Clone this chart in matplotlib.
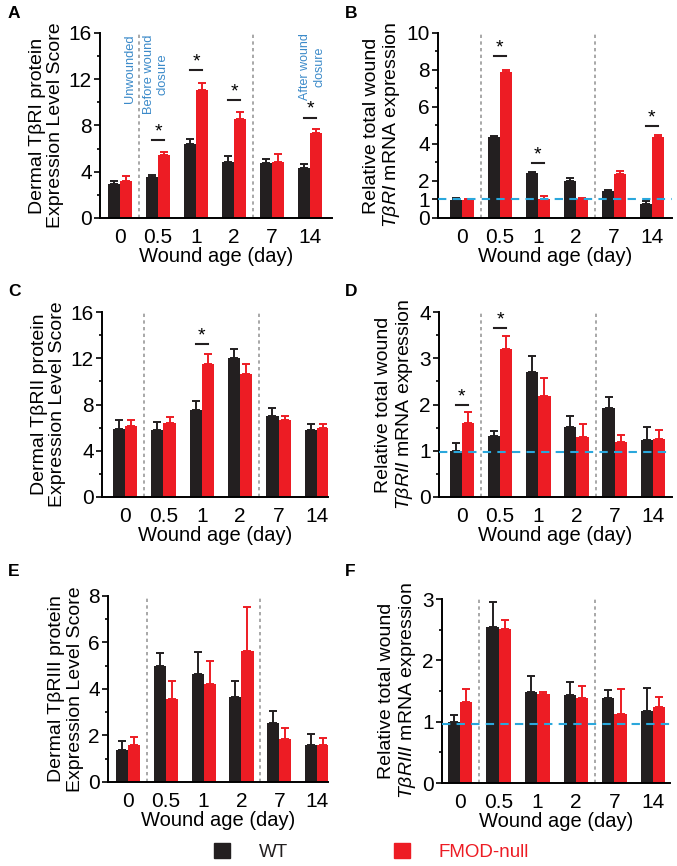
import numpy as np
import matplotlib
matplotlib.use('Agg')
import matplotlib.pyplot as plt
from matplotlib.patches import Patch

plt.rcParams['font.family'] = ['Liberation Sans', 'DejaVu Sans']
plt.rcParams['mathtext.fontset'] = 'custom'
plt.rcParams['mathtext.it'] = 'Liberation Sans:italic'
plt.rcParams['mathtext.rm'] = 'Liberation Sans'

# данные
days = ['0', '0.5', '1', '2', '7', '14']

A_wt = [2.94, 3.54, 6.43, 4.87, 4.76, 4.32]
A_wt_err = [0.23, 0.21, 0.40, 0.46, 0.34, 0.32]
A_ko = [3.23, 5.45, 11.1, 8.59, 4.87, 7.32]
A_ko_err = [0.37, 0.25, 0.57, 0.60, 0.63, 0.40]
A_sig = [(1, 6.71), (2, 12.8), (3, 10.2), (5, 8.65)]

B_wt = [0.97, 4.36, 2.43, 1.98, 1.44, 0.77]
B_wt_err = [0.13, 0.05, 0.07, 0.18, 0.06, 0.17]
B_ko = [0.99, 7.91, 1.0, 1.05, 2.38, 4.36]
B_ko_err = [0.02, 0.07, 0.17, 0.02, 0.14, 0.11]
B_sig = [(1, 8.74), (2, 2.97), (5, 4.95)]

C_wt = [5.85, 5.82, 7.52, 12.02, 6.97, 5.76]
C_wt_err = [0.78, 0.66, 0.75, 0.80, 0.72, 0.52]
C_ko = [6.14, 6.4, 11.53, 10.66, 6.69, 5.97]
C_ko_err = [0.55, 0.52, 0.80, 0.81, 0.28, 0.31]
C_sig = [(2, 13.2)]

D_wt = [1.005, 1.32, 2.7, 1.52, 1.92, 1.24]
D_wt_err = [0.165, 0.10, 0.35, 0.24, 0.25, 0.27]
D_ko = [1.59, 3.2, 2.19, 1.29, 1.19, 1.26]
D_ko_err = [0.25, 0.29, 0.39, 0.28, 0.15, 0.19]
D_sig = [(0, 1.99), (1, 3.65)]

E_wt = [1.36, 5.0, 4.64, 3.66, 2.54, 1.61]
E_wt_err = [0.41, 0.56, 0.96, 0.69, 0.52, 0.47]
E_ko = [1.61, 3.55, 4.21, 5.63, 1.84, 1.61]
E_ko_err = [0.33, 0.80, 0.99, 1.88, 0.50, 0.30]

F_wt = [0.99, 2.55, 1.48, 1.43, 1.39, 1.17]
F_wt_err = [0.12, 0.40, 0.26, 0.21, 0.13, 0.38]
F_ko = [1.32, 2.51, 1.45, 1.39, 1.125, 1.24]
F_ko_err = [0.22, 0.14, 0.03, 0.19, 0.415, 0.17]

BLACK = '#231f20'
RED = '#ed1c24'
BLUE_TXT = '#3b8ac9'
BLUE_LINE = '#2aa7dc'
GREY = '#9a9a9a'

fig = plt.figure(figsize=(6.77, 8.66), dpi=100)

panels = [
    # буква, позиция буквы, позиция осей, данные, ylim, yticks, xlim, ylabel, базовая линия
    ('A', (8, 14), [0.1477, 0.7483, 0.3427, 0.2136], (A_wt, A_wt_err, A_ko, A_ko_err), A_sig,
     16, [0, 4, 8, 12, 16], [2, 6, 10, 14], (-0.53, 5.58),
     'Dermal T\u03b2RI protein\nExpression Level Score', None),
    ('B', (345, 14), [0.6470, 0.7483, 0.3456, 0.2136], (B_wt, B_wt_err, B_ko, B_ko_err), B_sig,
     10, [0, 1, 2, 4, 6, 8, 10], [3, 5, 7, 9], (-0.63, 5.53),
     'Relative total wound\n$\\mathit{T\u03b2RI}$ mRNA expression', 1.0),
    ('C', (8, 291), [0.1507, 0.4261, 0.3338, 0.2136], (C_wt, C_wt_err, C_ko, C_ko_err), C_sig,
     16, [0, 4, 8, 12, 16], [2, 6, 10, 14], (-0.60, 5.29),
     'Dermal T\u03b2RII protein\nExpression Level Score', None),
    ('D', (345, 291), [0.6484, 0.4261, 0.3442, 0.2136], (D_wt, D_wt_err, D_ko, D_ko_err), D_sig,
     4, [0, 1, 2, 3, 4], [0.5, 1.5, 2.5, 3.5], (-0.60, 5.50),
     'Relative total wound\n$\\mathit{T\u03b2RII}$ mRNA expression', 0.97),
    ('E', (8, 572), [0.1595, 0.0970, 0.3250, 0.2148], (E_wt, E_wt_err, E_ko, E_ko_err), [],
     8, [0, 2, 4, 6, 8], [1, 3, 5, 7], (-0.53, 5.29),
     'Dermal T\u03b2RIII protein\nExpression Level Score', None),
    ('F', (345, 572), [0.6529, 0.0958, 0.3368, 0.2125], (F_wt, F_wt_err, F_ko, F_ko_err), [],
     3, [0, 1, 2, 3], [0.5, 1.5, 2.5], (-0.47, 5.44),
     'Relative total wound\n$\\mathit{T\u03b2RIII}$ mRNA expression', 0.97),
]

x = np.arange(len(days))
w = 0.32

for letter, lpos, pos, (wt, wt_e, ko, ko_e), sig, ymax, yt, ymin_t, xl, ylab, base in panels:
    ax = fig.add_axes(pos)
    zeros = [0] * len(days)
    ax.bar(x - w / 2, wt, w, color=BLACK, yerr=[zeros, wt_e],
           error_kw=dict(ecolor=BLACK, capsize=3, elinewidth=1.4, capthick=1.4))
    ax.bar(x + w / 2, ko, w, color=RED, yerr=[zeros, ko_e],
           error_kw=dict(ecolor=RED, capsize=3, elinewidth=1.4, capthick=1.4))

    for xs in (0.5, 3.5):
        ax.axvline(xs, color=GREY, lw=1.2, ls=(0, (2, 2)), zorder=0)
    if base is not None:
        ax.axhline(base, color=BLUE_LINE, lw=1.5, ls=(0, (4, 3)), zorder=5)

    for i, h in sig:
        ax.plot([i - w / 2, i + w / 2], [h, h], color=BLACK, lw=1.5)
        ax.text(i, h, '*', ha='center', va='bottom', fontsize=14)

    ax.set_ylim(0, ymax)
    ax.set_xlim(*xl)
    ax.set_yticks(yt)
    ax.set_yticks(ymin_t, minor=True)
    ax.set_xticks(x)
    ax.set_xticklabels(days)
    ax.tick_params(axis='x', length=0, labelsize=15, pad=7)
    ax.tick_params(axis='y', which='major', length=4, width=1.2, labelsize=15, pad=2)
    ax.tick_params(axis='y', which='minor', length=2.5, width=1.2)
    for s in ('top', 'right'):
        ax.spines[s].set_visible(False)
    for s in ('left', 'bottom'):
        ax.spines[s].set_linewidth(1.4)
    ax.set_xlabel('Wound age (day)', fontsize=14.5, labelpad=0)
    ax.set_ylabel(ylab, fontsize=14, linespacing=1.1, labelpad=3)

    fig.text(lpos[0] / 677, 1 - lpos[1] / 866, letter, fontsize=12.5,
             fontweight='bold', ha='left', va='center')

    if letter == 'A':
        ax.text(0.26, 15.9, 'Unwounded', rotation=90, ha='center', va='top',
                fontsize=9.3, color=BLUE_TXT)
        ax.text(0.94, 15.9, 'Before wound\nclosure', rotation=90, ha='center',
                va='top', fontsize=9.3, color=BLUE_TXT, multialignment='center',
                linespacing=1.25)
        ax.text(5.05, 16.0, 'After wound\nclosure', rotation=90, ha='center',
                va='top', fontsize=9.0, color=BLUE_TXT, multialignment='center',
                linespacing=1.25)

fig.legend([Patch(color=BLACK), Patch(color=RED)], ['WT', 'FMOD-null'],
           loc='center', bbox_to_anchor=(0.549, 0.016), ncol=2, frameon=False,
           fontsize=13.5, handlelength=0.85, handleheight=0.85,
           handletextpad=1.5, columnspacing=5.7, labelcolor=[BLACK, RED])

plt.savefig('out.png', dpi=100)
